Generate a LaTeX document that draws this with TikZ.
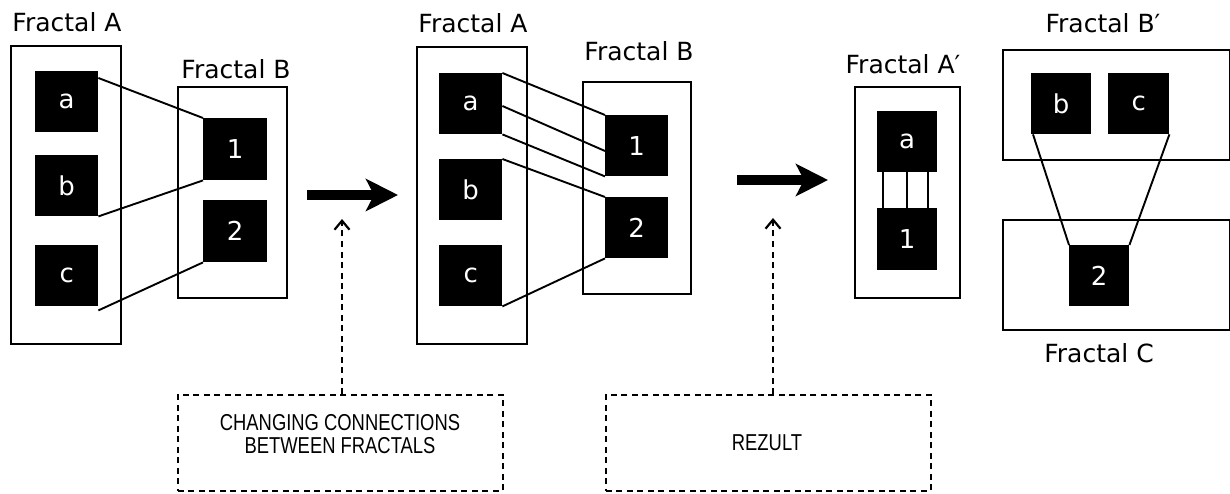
\documentclass[tikz,border=0pt]{standalone}
\usepackage{fontspec}
\setmainfont{DejaVu Sans}
\newfontfamily\narrowfont[FakeStretch=0.8]{Liberation Sans}
\usetikzlibrary{arrows.meta,calc}
\begin{document}
\begin{tikzpicture}[x=1pt,y=-1pt,
  frame/.style={draw, line width=2pt, inner sep=0pt, anchor=north west},
  sq/.style={fill=black, text=white, inner sep=0pt, anchor=north west,
     font=\fontsize{26}{30}\selectfont},
  lbl/.style={inner sep=0pt, anchor=base, font=\fontsize{25}{30}\selectfont},
  link/.style={line width=1.9pt},
  bigarrow/.style={line width=10pt, -{Stealth[length=32pt,width=32pt,inset=8pt]}},
  dashbox/.style={draw, dashed, dash pattern=on 6pt off 4.5pt, line width=1.8pt, inner sep=0pt, anchor=north west},
  dasharrow/.style={dashed, dash pattern=on 6pt off 4.5pt, line width=1.8pt, -{Straight Barb[length=9pt,width=15pt,line width=2.2pt]}},
  note/.style={inner sep=0pt, align=center, font=\narrowfont\fontsize{23}{22.5}\selectfont}
]
\useasboundingbox (0,0) rectangle (1230,494);

% ---------- panel 1
\node[frame, minimum width=110pt, minimum height=298pt] (A1) at (10,45) {};
\node[lbl] (A1l) at (67,32) {Fractal A};
\node[sq, minimum width=63pt, minimum height=61pt] (a1) at (35,71) {a};
\node[sq, minimum width=63pt, minimum height=61pt] (b1) at (35,155) {b};
\node[sq, minimum width=63pt, minimum height=61pt] (c1) at (35,245) {c};
\node[frame, minimum width=109pt, minimum height=211pt] (B1) at (177,86) {};
\node[lbl] (B1l) at (236,79) {Fractal B};
\node[sq, minimum width=64pt, minimum height=62pt] (n11) at (203,118) {1};
\node[sq, minimum width=64pt, minimum height=62pt] (n12) at (203,200) {2};
\draw[link] ($(a1.north east)+(0,7)$) -- (n11.north west);
\draw[link] (b1.south east) -- (n11.south west);
\draw[link] ($(c1.south east)+(0,4)$) -- (n12.south west);

% ---------- arrow 1
\coordinate (s1) at (307,195);
\coordinate (e1) at (398,195);
\draw[bigarrow] (s1) -- (e1);

% ---------- panel 2
\node[frame, minimum width=110pt, minimum height=297pt] (A2) at (416,46) {};
\node[lbl] (A2l) at (473,33) {Fractal A};
\node[sq, minimum width=63pt, minimum height=61pt] (a2) at (439,73) {a};
\node[sq, minimum width=63pt, minimum height=61pt] (b2) at (439,159) {b};
\node[sq, minimum width=63pt, minimum height=61pt] (c2) at (439,245) {c};
\node[frame, minimum width=108pt, minimum height=212pt] (B2) at (582,81) {};
\node[lbl] (B2l) at (639,61) {Fractal B};
\node[sq, minimum width=63pt, minimum height=61pt] (n21) at (605,115) {1};
\node[sq, minimum width=63pt, minimum height=61pt] (n22) at (605,197) {2};
\draw[link] (a2.north east) -- (n21.north west);
\draw[link] ($(a2.north east)+(0,33)$) -- ($(n21.north west)+(0,36)$);
\draw[link] (a2.south east) -- (n21.south west);
\draw[link] (b2.north east) -- (n22.north west);
\draw[link] (c2.south east) -- (n22.south west);

% ---------- arrow 2
\coordinate (s2) at (737,180);
\coordinate (e2) at (828,180);
\draw[bigarrow] (s2) -- (e2);

% ---------- panel 3
\node[frame, minimum width=105pt, minimum height=211pt] (A3) at (854,86) {};
\node[lbl] (A3l) at (903,74) {Fractal A′};
\node[sq, minimum width=60pt, minimum height=61pt] (a3) at (877,111) {a};
\node[sq, minimum width=60pt, minimum height=62pt] (n31) at (877,208) {1};
\draw[link] ($(a3.south west)+(6,0)$) -- ($(n31.north west)+(6,0)$);
\draw[link] (a3.south) -- (n31.north);
\draw[link] ($(a3.south east)+(-9,0)$) -- ($(n31.north east)+(-9,0)$);

% ---------- panel 4
\node[frame, minimum width=227pt, minimum height=110pt] (B4) at (1002,49) {};
\node[lbl] (B4l) at (1103,33) {Fractal B′};
\node[sq, minimum width=60pt, minimum height=61pt] (b4) at (1031,73) {b};
\node[sq, minimum width=61pt, minimum height=61pt] (c4) at (1108,73) {c};
\node[frame, minimum width=227pt, minimum height=110pt] (C4) at (1002,219) {};
\node[lbl] (C4l) at (1099,362) {Fractal C};
\node[sq, minimum width=60pt, minimum height=61pt] (n42) at (1069,245) {2};
\draw[link] ($(b4.south west)+(2,0)$) -- (n42.north west);
\draw[link] (c4.south east) -- (n42.north east);

% ---------- notes
\node[dashbox, minimum width=325pt, minimum height=96pt] (D1) at (177,394) {};
\node[note] (D1t) at (340,434) {CHANGING CONNECTIONS\\BETWEEN FRACTALS};
\node[dashbox, minimum width=325pt, minimum height=96pt] (D2) at (605,394) {};
\node[note] (D2t) at (767,443) {REZULT};
\coordinate (t1) at (342,219);
\coordinate (t2) at (773,218);
\draw[dasharrow] (D1.north -| t1) -- (t1);
\draw[dasharrow] (D2.north -| t2) -- (t2);
\end{tikzpicture}
\end{document}
